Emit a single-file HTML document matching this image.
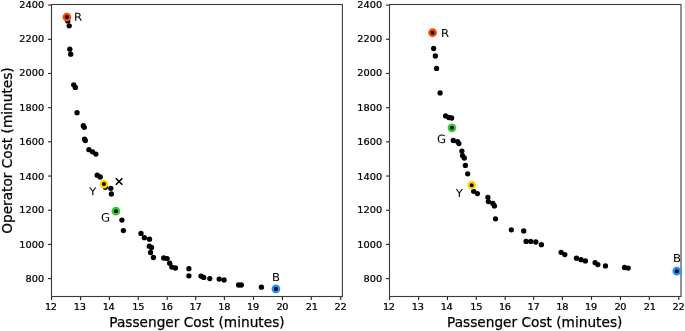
<!DOCTYPE html>
<html><head><meta charset="utf-8"><style>
html,body{margin:0;padding:0;background:#fff;width:685px;height:331px;overflow:hidden}
svg{display:block}
.tk{stroke:#222;stroke-width:1.1}
.sp{fill:none;stroke:#3a3a3a;stroke-width:1.1}
text{font-family:"DejaVu Sans", "Liberation Sans", sans-serif;fill:#000;stroke:#000;stroke-width:0.25px}
.tl{font-size:9.8px}
.tx{letter-spacing:-0.28px}
.al{font-size:13.7px}
.an{font-size:11.7px;fill:#000;stroke:none}
</style></head><body>
<svg width="685" height="331" viewBox="0 0 685 331">
<rect width="685" height="331" fill="#fff"/>
<line x1="51.60" y1="296.5" x2="51.60" y2="299.90" class="tk"/>
<text transform="translate(50.85 309.8) scale(1 0.97)" text-anchor="middle" class="tl tx">12</text>
<line x1="80.55" y1="296.5" x2="80.55" y2="299.90" class="tk"/>
<text transform="translate(79.75 309.8) scale(1 0.97)" text-anchor="middle" class="tl tx">13</text>
<line x1="109.45" y1="296.5" x2="109.45" y2="299.90" class="tk"/>
<text transform="translate(108.60 309.8) scale(1 0.97)" text-anchor="middle" class="tl tx">14</text>
<line x1="138.25" y1="296.5" x2="138.25" y2="299.90" class="tk"/>
<text transform="translate(138.15 309.8) scale(1 0.97)" text-anchor="middle" class="tl tx">15</text>
<line x1="167.20" y1="296.5" x2="167.20" y2="299.90" class="tk"/>
<text transform="translate(166.85 309.8) scale(1 0.97)" text-anchor="middle" class="tl tx">16</text>
<line x1="195.70" y1="296.5" x2="195.70" y2="299.90" class="tk"/>
<text transform="translate(195.50 309.8) scale(1 0.97)" text-anchor="middle" class="tl tx">17</text>
<line x1="224.40" y1="296.5" x2="224.40" y2="299.90" class="tk"/>
<text transform="translate(224.25 309.8) scale(1 0.97)" text-anchor="middle" class="tl tx">18</text>
<line x1="253.50" y1="296.5" x2="253.50" y2="299.90" class="tk"/>
<text transform="translate(253.05 309.8) scale(1 0.97)" text-anchor="middle" class="tl tx">19</text>
<line x1="282.45" y1="296.5" x2="282.45" y2="299.90" class="tk"/>
<text transform="translate(282.35 309.8) scale(1 0.97)" text-anchor="middle" class="tl tx">20</text>
<line x1="311.30" y1="296.5" x2="311.30" y2="299.90" class="tk"/>
<text transform="translate(311.65 309.8) scale(1 0.97)" text-anchor="middle" class="tl tx">21</text>
<line x1="340.80" y1="296.5" x2="340.80" y2="299.90" class="tk"/>
<text transform="translate(340.45 309.8) scale(1 0.97)" text-anchor="middle" class="tl tx">22</text>
<line x1="48.10" y1="278.60" x2="51.5" y2="278.60" class="tk"/>
<text transform="translate(44.20 282) scale(1 0.97)" text-anchor="end" class="tl">800</text>
<line x1="48.10" y1="244.42" x2="51.5" y2="244.42" class="tk"/>
<text transform="translate(44.20 248) scale(1 0.97)" text-anchor="end" class="tl">1000</text>
<line x1="48.10" y1="210.23" x2="51.5" y2="210.23" class="tk"/>
<text transform="translate(44.20 213) scale(1 0.97)" text-anchor="end" class="tl">1200</text>
<line x1="48.10" y1="176.04" x2="51.5" y2="176.04" class="tk"/>
<text transform="translate(44.20 180) scale(1 0.97)" text-anchor="end" class="tl">1400</text>
<line x1="48.10" y1="141.85" x2="51.5" y2="141.85" class="tk"/>
<text transform="translate(44.20 145) scale(1 0.97)" text-anchor="end" class="tl">1600</text>
<line x1="48.10" y1="107.66" x2="51.5" y2="107.66" class="tk"/>
<text transform="translate(44.20 111) scale(1 0.97)" text-anchor="end" class="tl">1800</text>
<line x1="48.10" y1="73.48" x2="51.5" y2="73.48" class="tk"/>
<text transform="translate(44.20 76) scale(1 0.97)" text-anchor="end" class="tl">2000</text>
<line x1="48.10" y1="39.29" x2="51.5" y2="39.29" class="tk"/>
<text transform="translate(44.20 42) scale(1 0.97)" text-anchor="end" class="tl">2200</text>
<line x1="48.10" y1="5.10" x2="51.5" y2="5.10" class="tk"/>
<text transform="translate(44.20 8) scale(1 0.97)" text-anchor="end" class="tl">2400</text>
<rect x="51.5" y="4.5" width="290.90" height="292.0" class="sp"/>
<text x="196.95" y="326.6" text-anchor="middle" class="al">Passenger Cost (minutes)</text>
<text transform="translate(12.2 150.6) rotate(-90)" x="0" y="0" text-anchor="middle" class="al">Operator Cost (minutes)</text>
<line x1="389.60" y1="296.5" x2="389.60" y2="299.90" class="tk"/>
<text transform="translate(388.85 309.8) scale(1 0.97)" text-anchor="middle" class="tl tx">12</text>
<line x1="418.55" y1="296.5" x2="418.55" y2="299.90" class="tk"/>
<text transform="translate(417.75 309.8) scale(1 0.97)" text-anchor="middle" class="tl tx">13</text>
<line x1="447.45" y1="296.5" x2="447.45" y2="299.90" class="tk"/>
<text transform="translate(446.60 309.8) scale(1 0.97)" text-anchor="middle" class="tl tx">14</text>
<line x1="476.25" y1="296.5" x2="476.25" y2="299.90" class="tk"/>
<text transform="translate(476.15 309.8) scale(1 0.97)" text-anchor="middle" class="tl tx">15</text>
<line x1="505.20" y1="296.5" x2="505.20" y2="299.90" class="tk"/>
<text transform="translate(504.85 309.8) scale(1 0.97)" text-anchor="middle" class="tl tx">16</text>
<line x1="533.70" y1="296.5" x2="533.70" y2="299.90" class="tk"/>
<text transform="translate(533.50 309.8) scale(1 0.97)" text-anchor="middle" class="tl tx">17</text>
<line x1="562.40" y1="296.5" x2="562.40" y2="299.90" class="tk"/>
<text transform="translate(562.25 309.8) scale(1 0.97)" text-anchor="middle" class="tl tx">18</text>
<line x1="591.50" y1="296.5" x2="591.50" y2="299.90" class="tk"/>
<text transform="translate(591.05 309.8) scale(1 0.97)" text-anchor="middle" class="tl tx">19</text>
<line x1="620.45" y1="296.5" x2="620.45" y2="299.90" class="tk"/>
<text transform="translate(620.35 309.8) scale(1 0.97)" text-anchor="middle" class="tl tx">20</text>
<line x1="649.30" y1="296.5" x2="649.30" y2="299.90" class="tk"/>
<text transform="translate(649.65 309.8) scale(1 0.97)" text-anchor="middle" class="tl tx">21</text>
<line x1="678.80" y1="296.5" x2="678.80" y2="299.90" class="tk"/>
<text transform="translate(678.45 309.8) scale(1 0.97)" text-anchor="middle" class="tl tx">22</text>
<line x1="386.10" y1="278.60" x2="389.5" y2="278.60" class="tk"/>
<text transform="translate(382.20 282) scale(1 0.97)" text-anchor="end" class="tl">800</text>
<line x1="386.10" y1="244.42" x2="389.5" y2="244.42" class="tk"/>
<text transform="translate(382.20 248) scale(1 0.97)" text-anchor="end" class="tl">1000</text>
<line x1="386.10" y1="210.23" x2="389.5" y2="210.23" class="tk"/>
<text transform="translate(382.20 213) scale(1 0.97)" text-anchor="end" class="tl">1200</text>
<line x1="386.10" y1="176.04" x2="389.5" y2="176.04" class="tk"/>
<text transform="translate(382.20 180) scale(1 0.97)" text-anchor="end" class="tl">1400</text>
<line x1="386.10" y1="141.85" x2="389.5" y2="141.85" class="tk"/>
<text transform="translate(382.20 145) scale(1 0.97)" text-anchor="end" class="tl">1600</text>
<line x1="386.10" y1="107.66" x2="389.5" y2="107.66" class="tk"/>
<text transform="translate(382.20 111) scale(1 0.97)" text-anchor="end" class="tl">1800</text>
<line x1="386.10" y1="73.48" x2="389.5" y2="73.48" class="tk"/>
<text transform="translate(382.20 76) scale(1 0.97)" text-anchor="end" class="tl">2000</text>
<line x1="386.10" y1="39.29" x2="389.5" y2="39.29" class="tk"/>
<text transform="translate(382.20 42) scale(1 0.97)" text-anchor="end" class="tl">2200</text>
<line x1="386.10" y1="5.10" x2="389.5" y2="5.10" class="tk"/>
<text transform="translate(382.20 8) scale(1 0.97)" text-anchor="end" class="tl">2400</text>
<rect x="389.5" y="4.5" width="291.50" height="292.0" class="sp"/>
<text x="534.70" y="326.6" text-anchor="middle" class="al">Passenger Cost (minutes)</text>
<circle cx="67.8" cy="20.9" r="2.65"/>
<circle cx="69.2" cy="25.8" r="2.65"/>
<circle cx="69.8" cy="49.2" r="2.65"/>
<circle cx="70.7" cy="54.2" r="2.65"/>
<circle cx="73.7" cy="84.8" r="2.65"/>
<circle cx="75.4" cy="87.4" r="2.65"/>
<circle cx="77.05" cy="112.65" r="2.65"/>
<circle cx="83.3" cy="125.7" r="2.65"/>
<circle cx="84.3" cy="127.3" r="2.65"/>
<circle cx="84.5" cy="139.1" r="2.65"/>
<circle cx="85.4" cy="140.6" r="2.65"/>
<circle cx="88.9" cy="149.7" r="2.65"/>
<circle cx="92.5" cy="151.8" r="2.65"/>
<circle cx="95.9" cy="154.1" r="2.65"/>
<circle cx="97.2" cy="175.2" r="2.65"/>
<circle cx="100.2" cy="177.0" r="2.65"/>
<circle cx="105.3" cy="187.2" r="2.65"/>
<circle cx="110.8" cy="188.3" r="2.65"/>
<circle cx="111.4" cy="194.0" r="2.65"/>
<circle cx="121.9" cy="220.1" r="2.65"/>
<circle cx="123.4" cy="230.6" r="2.65"/>
<circle cx="141.0" cy="233.4" r="2.65"/>
<circle cx="144.4" cy="237.7" r="2.65"/>
<circle cx="149.5" cy="239.2" r="2.65"/>
<circle cx="149.3" cy="246.2" r="2.65"/>
<circle cx="151.5" cy="247.5" r="2.65"/>
<circle cx="150.6" cy="252.5" r="2.65"/>
<circle cx="153.4" cy="257.5" r="2.65"/>
<circle cx="163.7" cy="258.0" r="2.65"/>
<circle cx="167.1" cy="258.6" r="2.65"/>
<circle cx="169.7" cy="263.2" r="2.65"/>
<circle cx="171.8" cy="267.1" r="2.65"/>
<circle cx="175.4" cy="268.0" r="2.65"/>
<circle cx="188.9" cy="268.7" r="2.65"/>
<circle cx="188.9" cy="275.8" r="2.65"/>
<circle cx="201.0" cy="276.1" r="2.65"/>
<circle cx="203.7" cy="277.4" r="2.65"/>
<circle cx="209.8" cy="278.6" r="2.65"/>
<circle cx="219.2" cy="279.1" r="2.65"/>
<circle cx="224.1" cy="279.9" r="2.65"/>
<circle cx="238.6" cy="285.0" r="2.65"/>
<circle cx="241.3" cy="285.0" r="2.65"/>
<circle cx="261.4" cy="287.2" r="2.65"/>
<circle cx="66.9" cy="17.1" r="2.65"/>
<circle cx="103.95" cy="184.05" r="2.65"/>
<circle cx="115.9" cy="211.2" r="2.65"/>
<circle cx="275.9" cy="288.9" r="2.65"/>
<circle cx="66.9" cy="17.1" r="3.2" fill="none" stroke="#ff4500" stroke-width="2.3"/>
<circle cx="103.95" cy="184.05" r="3.2" fill="none" stroke="#ffd700" stroke-width="2.3"/>
<circle cx="115.9" cy="211.2" r="3.2" fill="none" stroke="#32cd32" stroke-width="2.3"/>
<circle cx="275.9" cy="288.9" r="3.2" fill="none" stroke="#1e90ff" stroke-width="2.3"/>
<text transform="translate(73.9 20.8) rotate(0.05) scale(1 0.93)" class="an">R</text>
<text transform="translate(89.3 195.2) rotate(0.05) scale(1 0.93)" class="an">Y</text>
<text transform="translate(101.0 221.4) rotate(0.05) scale(1 0.98)" class="an">G</text>
<text transform="translate(272.1 280.9) rotate(0.05) scale(1 0.93)" class="an">B</text>
<path d="M115.85 178.25L122.35 184.75M115.85 184.75L122.35 178.25" stroke="#000" stroke-width="1.6" fill="none"/>
<circle cx="433.65" cy="48.5" r="2.65"/>
<circle cx="435.35" cy="56.0" r="2.65"/>
<circle cx="436.55" cy="68.4" r="2.65"/>
<circle cx="440.1" cy="92.9" r="2.65"/>
<circle cx="445.6" cy="115.9" r="2.65"/>
<circle cx="448.8" cy="117.5" r="2.65"/>
<circle cx="451.6" cy="118.0" r="2.65"/>
<circle cx="453.3" cy="140.5" r="2.65"/>
<circle cx="457.6" cy="141.6" r="2.65"/>
<circle cx="458.9" cy="143.6" r="2.65"/>
<circle cx="461.9" cy="151.1" r="2.65"/>
<circle cx="462.5" cy="155.6" r="2.65"/>
<circle cx="464.3" cy="158.0" r="2.65"/>
<circle cx="465.4" cy="165.4" r="2.65"/>
<circle cx="467.7" cy="173.8" r="2.65"/>
<circle cx="473.7" cy="191.3" r="2.65"/>
<circle cx="477.4" cy="193.6" r="2.65"/>
<circle cx="487.9" cy="197.3" r="2.65"/>
<circle cx="488.4" cy="201.6" r="2.65"/>
<circle cx="492.9" cy="203.5" r="2.65"/>
<circle cx="494.4" cy="205.9" r="2.65"/>
<circle cx="495.5" cy="218.8" r="2.65"/>
<circle cx="511.3" cy="229.8" r="2.65"/>
<circle cx="523.7" cy="230.9" r="2.65"/>
<circle cx="526.1" cy="241.4" r="2.65"/>
<circle cx="530.7" cy="241.4" r="2.65"/>
<circle cx="535.8" cy="242.0" r="2.65"/>
<circle cx="541.4" cy="244.7" r="2.65"/>
<circle cx="561.1" cy="252.3" r="2.65"/>
<circle cx="564.8" cy="254.6" r="2.65"/>
<circle cx="576.5" cy="258.2" r="2.65"/>
<circle cx="581.0" cy="259.7" r="2.65"/>
<circle cx="585.4" cy="260.9" r="2.65"/>
<circle cx="595.1" cy="262.7" r="2.65"/>
<circle cx="597.85" cy="264.6" r="2.65"/>
<circle cx="605.45" cy="265.95" r="2.65"/>
<circle cx="624.5" cy="267.5" r="2.65"/>
<circle cx="628.2" cy="268.1" r="2.65"/>
<circle cx="432.6" cy="32.7" r="2.65"/>
<circle cx="471.7" cy="185.2" r="2.65"/>
<circle cx="451.95" cy="127.8" r="2.65"/>
<circle cx="676.8" cy="271.2" r="2.65"/>
<circle cx="432.6" cy="32.7" r="3.2" fill="none" stroke="#ff4500" stroke-width="2.3"/>
<circle cx="471.7" cy="185.2" r="3.2" fill="none" stroke="#ffd700" stroke-width="2.3"/>
<circle cx="451.95" cy="127.8" r="3.2" fill="none" stroke="#32cd32" stroke-width="2.3"/>
<circle cx="676.8" cy="271.2" r="3.2" fill="none" stroke="#1e90ff" stroke-width="2.3"/>
<text transform="translate(441.0 37.0) rotate(0.05) scale(1 0.93)" class="an">R</text>
<text transform="translate(436.9 142.9) rotate(0.05) scale(1 0.98)" class="an">G</text>
<text transform="translate(455.8 196.9) rotate(0.05) scale(1 0.93)" class="an">Y</text>
<text transform="translate(672.9 261.9) rotate(0.05) scale(1 0.93)" class="an">B</text>
</svg>
</body></html>
